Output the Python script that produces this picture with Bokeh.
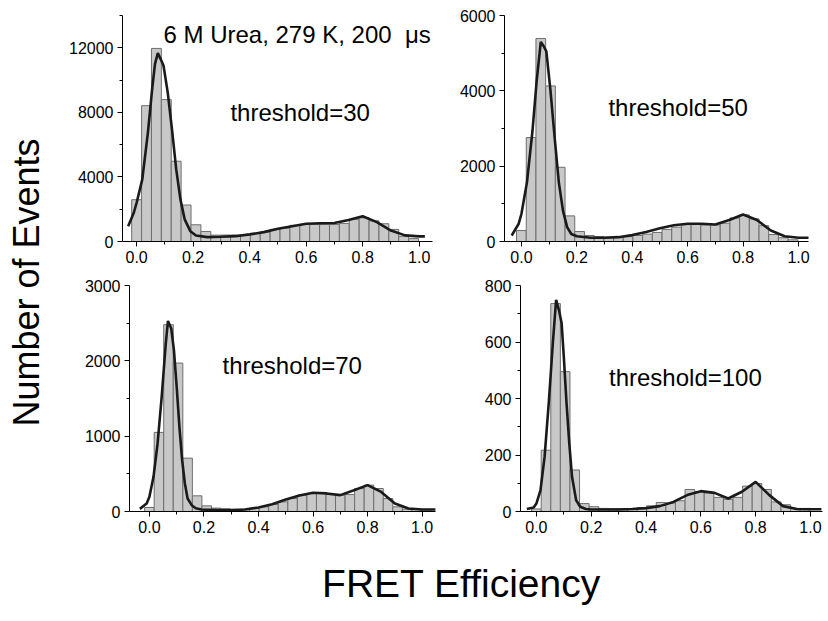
from math import pi
from bokeh.plotting import figure
from bokeh.layouts import row, column
from bokeh.models import Range1d, FixedTicker, Label, PrintfTickFormatter
from bokeh.embed import file_html
from bokeh.resources import INLINE

# ---------------- data ----------------
bin_centers = [0.0, 0.035, 0.07, 0.105, 0.14, 0.175, 0.21, 0.245, 0.28, 0.315,
               0.35, 0.385, 0.42, 0.455, 0.49, 0.525, 0.56, 0.595, 0.63, 0.665,
               0.70, 0.735, 0.77, 0.805, 0.84, 0.875, 0.91, 0.945, 0.98, 1.015]

counts_30 = [2590, 8414, 11960, 8788, 4974, 2260, 1036, 622, 394, 400,
             400, 430, 500, 580, 750, 830, 1000, 1060, 1060, 1060,
             1060, 1120, 1370, 1470, 1280, 1100, 750, 320, 180]
fit_x_30 = [-0.03, -0.01, 0.0, 0.02, 0.04, 0.055, 0.065, 0.075, 0.085, 0.095,
            0.11, 0.125, 0.14, 0.155, 0.17, 0.19, 0.21, 0.25, 0.3, 0.35,
            0.4, 0.45, 0.5, 0.55, 0.6, 0.65, 0.7, 0.75, 0.8, 0.85,
            0.9, 0.95, 1.0, 1.02]
fit_y_30 = [950, 1780, 2400, 3850, 6760, 9450, 11000, 11670, 11300, 10900,
            9240, 6960, 4480, 2610, 1370, 640, 370, 270, 290, 330,
            440, 580, 790, 950, 1100, 1130, 1150, 1330, 1560, 1200,
            680, 380, 320, 320]

counts_50 = [291, 2760, 5390, 4130, 1970, 680, 265, 160, 130, 115,
             115, 130, 160, 195, 240, 320, 380, 450, 470, 440,
             440, 485, 625, 705, 600, 420, 185, 100, 45]
fit_x_50 = [-0.035, -0.01, 0.0, 0.02, 0.04, 0.055, 0.07, 0.08, 0.09, 0.105,
            0.12, 0.135, 0.15, 0.165, 0.18, 0.2, 0.25, 0.3, 0.35, 0.4,
            0.45, 0.5, 0.55, 0.6, 0.65, 0.7, 0.75, 0.8, 0.85, 0.9,
            0.95, 1.0, 1.04]
fit_y_50 = [160, 470, 730, 1570, 2940, 4260, 5300, 5190, 5050, 4000,
            2760, 1570, 820, 380, 200, 140, 100, 100, 115, 170,
            250, 350, 430, 470, 470, 450, 570, 715, 570, 290,
            140, 100, 100]

counts_70 = [53, 1050, 2480, 1970, 708, 208, 75, 45, 35, 27,
             30, 45, 62, 93, 128, 172, 217, 240, 240, 225,
             217, 225, 305, 350, 305, 172, 62, 31, 31, 25]
fit_x_70 = [-0.035, -0.01, 0.0, 0.015, 0.03, 0.045, 0.06, 0.068, 0.08, 0.09,
            0.1, 0.11, 0.12, 0.13, 0.14, 0.155, 0.17, 0.19, 0.25, 0.3,
            0.35, 0.4, 0.45, 0.5, 0.55, 0.6, 0.65, 0.7, 0.75, 0.8,
            0.85, 0.9, 0.95, 1.0, 1.05]
fit_y_70 = [35, 106, 195, 460, 903, 1522, 2230, 2530, 2430, 2140,
            1655, 1124, 681, 372, 173, 84, 44, 27, 18, 18,
            27, 53, 97, 160, 212, 248, 240, 217, 283, 350,
            260, 106, 40, 27, 27]

counts_100 = [9, 217, 736, 495, 147, 28, 17, 11, 10, 10,
              10, 14, 20, 32, 30, 38, 78, 70, 66, 50,
              43, 50, 90, 99, 78, 34, 24, 11, 11]
fit_x_100 = [-0.035, -0.01, 0.0, 0.015, 0.03, 0.045, 0.06, 0.072, 0.082, 0.092,
             0.1, 0.11, 0.12, 0.13, 0.145, 0.16, 0.18, 0.2, 0.3, 0.35,
             0.4, 0.45, 0.5, 0.55, 0.6, 0.65, 0.7, 0.75, 0.8, 0.85,
             0.9, 0.95, 1.0, 1.04]
fit_y_100 = [9, 14, 28, 76, 194, 383, 596, 749, 714, 667,
             548, 383, 241, 123, 40, 17, 9, 7, 7, 9,
             12, 19, 34, 58, 72, 66, 46, 70, 105, 58,
             19, 9, 8, 8]

x_major = [0.0, 0.2, 0.4, 0.6, 0.8, 1.0]
x_minor = [0.1, 0.3, 0.5, 0.7, 0.9]

FONT = "Liberation Sans"


def panel(width, height, bl, br, bt, bb, xr, ymax, ymajor, yminor,
          counts, fx, fy, label, lx, ly):
    p = figure(width=width, height=height, x_range=Range1d(*xr),
               y_range=Range1d(0, ymax), output_backend="svg",
               toolbar_location=None, min_border_left=bl, min_border_right=br,
               min_border_top=bt, min_border_bottom=bb)
    p.outline_line_color = None
    p.grid.visible = False
    p.vbar(x=bin_centers[:len(counts)], top=counts, bottom=0, width=0.035,
           fill_color="#c8c8c8", line_color="#6e6e6e", line_width=1)
    p.line(fx, fy, line_color="#1a1a1a", line_width=2.6)
    p.xaxis.ticker = FixedTicker(ticks=x_major, minor_ticks=x_minor)
    p.xaxis.formatter = PrintfTickFormatter(format="%.1f")
    p.yaxis.ticker = FixedTicker(ticks=ymajor, minor_ticks=yminor)
    p.yaxis.formatter = PrintfTickFormatter(format="%d")
    for ax in (p.xaxis, p.yaxis):
        ax.axis_line_color = "black"
        ax.axis_line_width = 1
        ax.major_tick_line_color = "black"
        ax.minor_tick_line_color = "black"
        ax.major_tick_out = 5
        ax.major_tick_in = 0
        ax.minor_tick_out = 3
        ax.minor_tick_in = 0
        ax.major_label_text_font = FONT
        ax.major_label_text_font_size = "16px"
        ax.major_label_text_color = "black"
        ax.major_label_standoff = 4
    p.add_layout(Label(x=lx, y=ly, text=label, text_font=FONT,
                       text_font_size="24px", text_color="black",
                       text_align="left", text_baseline="alphabetic"))
    return p


# row A: frames 15..241 ; row B: frames 285..511 (page pixels)
p1 = panel(448 - 62, 273, 60, 16, 15, 32, (-0.05, 1.047), 14000,
           [0, 4000, 8000, 12000], [2000, 6000, 10000, 14000],
           counts_30, fit_x_30, fit_y_30, "threshold=30", 0.332, 8000)
p1.add_layout(Label(x=0.095, y=12825, text="6 M Urea, 279 K, 200\u00a0 \u03bcs",
                    text_font=FONT, text_font_size="24px", text_color="black",
                    text_align="left", text_baseline="alphabetic"))

p2 = panel(828 - 448, 273, 56, 20, 15, 32, (-0.061, 1.036), 6000,
           [0, 2000, 4000, 6000], [1000, 3000, 5000],
           counts_50, fit_x_50, fit_y_50, "threshold=50", 0.314, 3557)

p3 = panel(455 - 62, 274, 67, 20, 12, 36, (-0.073, 1.049), 3000,
           [0, 1000, 2000, 3000], [500, 1500, 2500],
           counts_70, fit_x_70, fit_y_70, "threshold=70", 0.268, 1938)

p4 = panel(828 - 455, 274, 65, 6, 12, 36, (-0.058, 1.044), 800,
           [0, 200, 400, 600, 800], [100, 300, 500, 700],
           counts_100, fit_x_100, fit_y_100, "threshold=100", 0.265, 474)


def text_fig(w, h):
    f = figure(width=w, height=h, x_range=Range1d(0, w), y_range=Range1d(0, h),
               output_backend="svg", toolbar_location=None, min_border=0,
               x_axis_location=None, y_axis_location=None)
    f.outline_line_color = None
    f.grid.visible = False
    return f


ylab = text_fig(62, 620)
ylab.add_layout(Label(x=26, y=338, text="Number of Events", angle=pi / 2,
                      text_font=FONT, text_font_size="36px", text_color="black",
                      text_align="center", text_baseline="alphabetic"))

xlab = text_fig(828 - 62, 73)
xlab.add_layout(Label(x=399, y=37, text="FRET Efficiency",
                      text_font=FONT, text_font_size="39px", text_color="black",
                      text_align="center", text_baseline="alphabetic"))

layout = row(ylab, column(row(p1, p2), row(p3, p4), xlab))

open("out.html", "w").write(file_html(layout, INLINE))
